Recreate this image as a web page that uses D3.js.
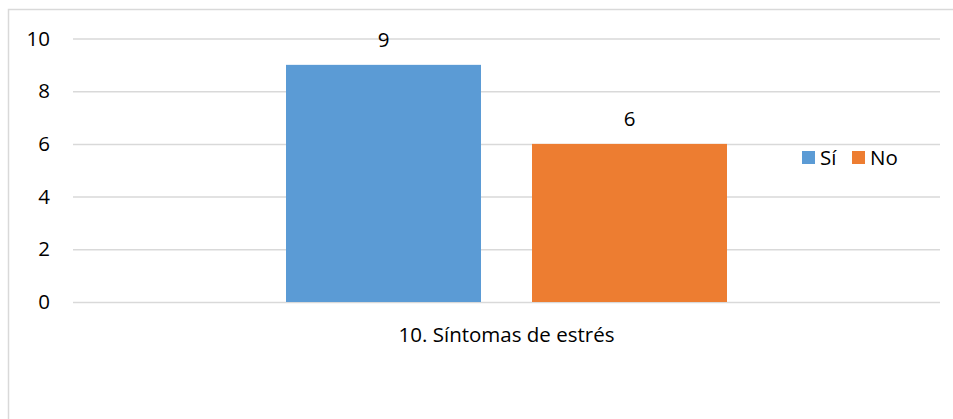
<!DOCTYPE html>
<html>
<head>
<meta charset="utf-8">
<script src="https://cdn.jsdelivr.net/npm/d3@7"></script>
<style>
  html, body { margin: 0; padding: 0; background: #fff; }
  svg { display: block; }
  text { font-family: "Open Sans", Lato, sans-serif; fill: #000; }
</style>
</head>
<body>
<svg id="chart" width="953" height="419"></svg>
<script>
// Chart data
const categories = ["10. Síntomas de estrés"];
const seriesNames = ["Sí", "No"];
const seriesValues = [[9], [6]];
const yTicks = [0, 2, 4, 6, 8, 10];
const colors = ["#5B9BD5", "#ED7D31"];

const FONT = "'Open Sans', Lato, sans-serif";
const FS = 20.5;

const svg = d3.select("#chart");
const W = 953, H = 419;
const margin = { left: 73, right: 13, top: 38.5, bottom: 117 };
const plotW = W - margin.left - margin.right;
const plotH = H - margin.top - margin.bottom;

// Outer frame
svg.append("rect")
  .attr("x", 8.5).attr("y", 9.5)
  .attr("width", W).attr("height", H)
  .attr("fill", "#fff")
  .attr("stroke", "#D9D9D9").attr("stroke-width", 1.5);

const g = svg.append("g").attr("transform", `translate(${margin.left},${margin.top})`);

const y = d3.scaleLinear().domain([0, 10]).range([plotH, 0]);
const x0 = d3.scaleBand().domain(categories).range([0, plotW]).paddingInner(0).paddingOuter(0);
// Inner band: two bars with a gap between them, centred in the category
const groupW = 441;
const x1 = d3.scaleBand().domain(seriesNames)
  .range([(x0.bandwidth() - groupW) / 2, (x0.bandwidth() + groupW) / 2])
  .paddingInner(51 / 246).paddingOuter(0);

// Gridlines and value axis
const yAxis = d3.axisLeft(y).tickValues(yTicks).tickSize(-plotW).tickPadding(23).tickFormat(d3.format("d"));
const ya = g.append("g").call(yAxis);
ya.select(".domain").remove();
ya.selectAll(".tick line").attr("stroke", "#D9D9D9").attr("stroke-width", 1.5);
ya.selectAll(".tick text")
  .attr("font-family", FONT)
  .attr("font-size", FS).attr("fill", "#000");

// Bars and value labels
const cat = g.selectAll(".cat").data(categories).join("g")
  .attr("class", "cat")
  .attr("transform", d => `translate(${x0(d)},0)`);

seriesNames.forEach((s, si) => {
  cat.append("rect")
    .attr("x", x1(s))
    .attr("y", (d, ci) => y(seriesValues[si][ci]))
    .attr("width", x1.bandwidth())
    .attr("height", (d, ci) => y(0) - y(seriesValues[si][ci]))
    .attr("fill", colors[si]);
  cat.append("text")
    .attr("x", x1(s) + x1.bandwidth() / 2)
    .attr("y", (d, ci) => y(seriesValues[si][ci]) - 17.5)
    .attr("text-anchor", "middle")
    .attr("font-size", FS)
    .text((d, ci) => seriesValues[si][ci]);
});

// Category axis label
g.selectAll(".catlabel").data(categories).join("text")
  .attr("x", d => x0(d) + x0.bandwidth() / 2)
  .attr("y", plotH + 40)
  .attr("text-anchor", "middle")
  .attr("font-size", FS)
  .text(d => d);

// Legend
const legend = svg.append("g").attr("transform", "translate(802,151)");
const legendX = [0, 50];
seriesNames.forEach((s, i) => {
  const lg = legend.append("g").attr("transform", `translate(${legendX[i]},0)`);
  lg.append("rect").attr("width", 13).attr("height", 13).attr("fill", colors[i]);
  lg.append("text").attr("x", 18).attr("y", 14).attr("font-size", FS).text(s);
});
</script>
</body>
</html>
